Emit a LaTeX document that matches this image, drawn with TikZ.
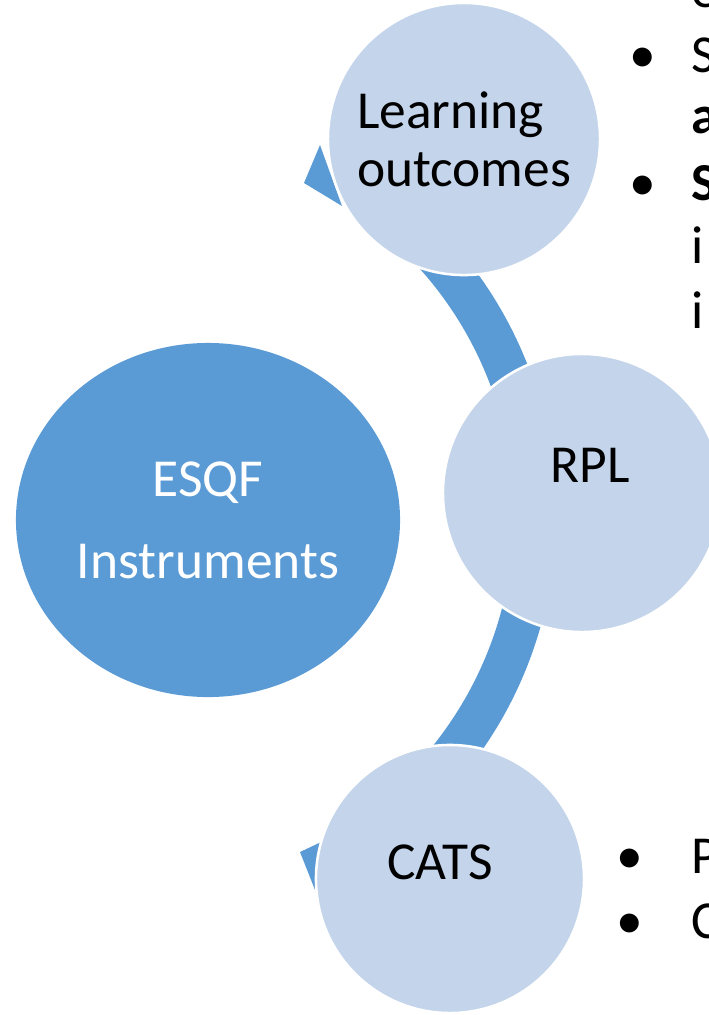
\documentclass[tikz,border=0pt]{standalone}
\usepackage{fontspec}
\setmainfont{Carlito}
\usepackage{xcolor}
\usetikzlibrary{shapes.geometric, calc}
\definecolor{esqfblue}{RGB}{91,155,213}
\definecolor{paleblue}{RGB}{196,213,235}
\newcommand{\bigtxt}{\fontsize{38}{41.3}\selectfont}

\begin{document}
\begin{tikzpicture}[
    x=0.025cm, y=-0.025cm,
    core/.style={ellipse, fill=esqfblue, text=white, inner sep=0pt,
      minimum width=9.6cm, minimum height=8.85cm, align=center,
      font=\fontsize{38}{58.3}\selectfont},
    bubble/.style={circle, fill=paleblue, draw=white, line width=1.8pt,
      inner sep=0pt, minimum size=#1, font=\bigtxt},
    bubtext/.style={inner sep=0pt, font=\bigtxt},
    side/.style={anchor=base west, inner sep=0pt, font=\bigtxt},
    dot/.style={anchor=base, inner sep=0pt, font=\bigtxt},
    band/.style={draw=esqfblue, line width=1.05cm}
]
\useasboundingbox (0,0) rectangle (709,1015);
\clip (0,0) rectangle (709,1015);

% curved band behind the circles
\coordinate (hub) at (145,515);
\draw[band] ([shift={(-50:390)}]hub) arc[start angle=-50, end angle=50, radius=390];
\fill[esqfblue] (304,183) -- (320,145) -- (342,206) -- cycle;
\fill[esqfblue] (300,852) -- (338,834) -- (330,880) -- (319,900) -- cycle;

\node[core] (esqf) at (208,520) {ESQF\\Instruments};

\node[bubble=6.8cm, align=left] (lo) at (464,139) {Learning\\outcomes};
\node[bubble=6.95cm] (rpl) at (582,493) {};
\node[bubble=6.7cm] (cats) at (450,879) {};
\node[bubtext] (rpltext)  at ([shift={(8,-28)}]rpl)   {RPL};
\node[bubtext] (catstext) at ([shift={(-10,-17)}]cats) {CATS};

% bullet text on the right (cut by the edge)
\node[side] (t0) at (691,7)   {e};
\node[dot]  (b1) at (643,72)  {•};
\node[side] (t1) at (691,72)  {S};
\node[side, font=\bigtxt\bfseries] (t2) at (691,133) {a};
\node[dot]  (b2) at (643,200) {•};
\node[side, font=\bigtxt\bfseries] (t3) at (691,200) {S};
\node[side] (t4) at (691,263) {i};
\node[side] (t5) at (691,328) {i};

\node[dot]  (b3) at (630,873) {•};
\node[side] (t6) at (691,873) {P};
\node[dot]  (b4) at (630,938) {•};
\node[side] (t7) at (691,938) {C};
\end{tikzpicture}
\end{document}
